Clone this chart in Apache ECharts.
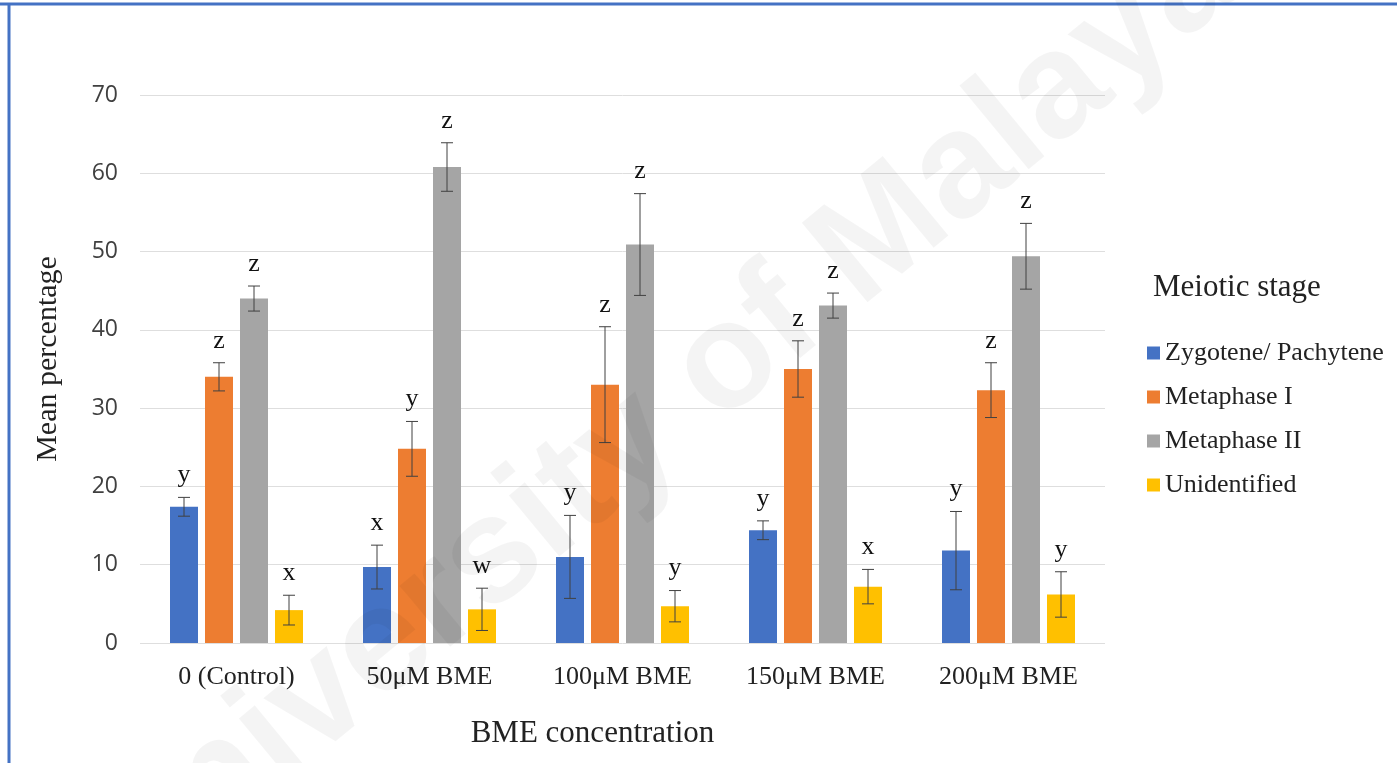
<!DOCTYPE html>
<html>
<head>
<meta charset="utf-8">
<script src="https://cdn.jsdelivr.net/npm/echarts@6/dist/echarts.min.js"></script>
<style>
html,body{margin:0;padding:0;background:#fff;}
#chart{width:1397px;height:763px;}
</style>
</head>
<body>
<div id="chart"></div>
<script>
const categories = ['0 (Control)', '50\u03bcM BME', '100\u03bcM BME', '150\u03bcM BME', '200\u03bcM BME'];
const seriesNames = ['Zygotene/ Pachytene', 'Metaphase I', 'Metaphase II', 'Unidentified'];
const zygotene = [17.4, 9.7, 11.0, 14.4, 11.8];
const metaphase1 = [34.0, 24.8, 33.0, 35.0, 32.3];
const metaphase2 = [44.0, 60.8, 50.9, 43.1, 49.4];
const unidentified = [4.2, 4.3, 4.7, 7.2, 6.2];
const zygoteneErr = [1.2, 2.8, 5.3, 1.2, 5.0];
const metaphase1Err = [1.8, 3.5, 7.4, 3.6, 3.5];
const metaphase2Err = [1.6, 3.1, 6.5, 1.6, 4.2];
const unidentifiedErr = [1.9, 2.7, 2.0, 2.2, 2.9];
const zygoteneLetters = ['y', 'x', 'y', 'y', 'y'];
const metaphase1Letters = ['z', 'y', 'z', 'z', 'z'];
const metaphase2Letters = ['z', 'z', 'z', 'z', 'z'];
const unidentifiedLetters = ['x', 'w', 'y', 'x', 'y'];
const yTicks = { min: 0, max: 70, interval: 10 };

const colors = ['#4472C4', '#ED7D31', '#A5A5A5', '#FFC000'];
const means = [zygotene, metaphase1, metaphase2, unidentified];
const errs = [zygoteneErr, metaphase1Err, metaphase2Err, unidentifiedErr];
const letters = [zygoteneLetters, metaphase1Letters, metaphase2Letters, unidentifiedLetters];

const BAR_W = 28;
const BAR_GAP = 0.25;
const serif = '"Liberation Serif", "Times New Roman", serif';

const chart = echarts.init(document.getElementById('chart'), null, { renderer: 'canvas' });

const barSeries = seriesNames.map((name, k) => ({
  name: name,
  type: 'bar',
  data: means[k],
  barWidth: BAR_W,
  barGap: (BAR_GAP * 100) + '%',
  itemStyle: { color: colors[k] },
  z: 2
}));

const errSeries = seriesNames.map((name, k) => ({
  name: 'err' + k,
  type: 'custom',
  z: 4,
  silent: true,
  data: means[k].map((m, i) => [i, m, errs[k][i], letters[k][i]]),
  renderItem: function (params, api) {
    const idx = api.value(0);
    const m = api.value(1);
    const e = api.value(2);
    const letter = letters[k][idx];
    const step = BAR_W * (1 + BAR_GAP);
    const off = (k - 1.5) * step;
    const top = api.coord([idx, m + e]);
    const bot = api.coord([idx, m - e]);
    const x = top[0] + off;
    const cap = 6;
    const ls = { stroke: '#404040', lineWidth: 1 };
    return {
      type: 'group',
      children: [
        { type: 'line', shape: { x1: x, y1: top[1], x2: x, y2: bot[1] }, style: ls },
        { type: 'line', shape: { x1: x - cap, y1: top[1], x2: x + cap, y2: top[1] }, style: ls },
        { type: 'line', shape: { x1: x - cap, y1: bot[1], x2: x + cap, y2: bot[1] }, style: ls },
        { type: 'text', style: {
            text: letter, x: x, y: top[1] - 9,
            font: '26px ' + serif, fill: '#111',
            textAlign: 'center', textVerticalAlign: 'bottom',
            align: 'center', verticalAlign: 'bottom'
        } }
      ]
    };
  }
}));

const option = {
  backgroundColor: '#ffffff',
  animation: false,
  color: colors,
  title: {
    text: 'Meiotic stage',
    left: 1148,
    top: 267,
    textStyle: { fontFamily: serif, fontSize: 31, fontWeight: 'normal', color: '#222' }
  },
  legend: {
    data: seriesNames,
    orient: 'vertical',
    left: 1142,
    top: 335,
    icon: 'rect',
    itemWidth: 13,
    itemHeight: 13,
    itemGap: 18,
    textStyle: { fontFamily: serif, fontSize: 26, color: '#222' }
  },
  grid: { left: 140, right: 292, top: 95, bottom: 120 },
  xAxis: {
    type: 'category',
    data: categories,
    axisLine: { show: false },
    axisTick: { show: false },
    axisLabel: { fontFamily: serif, fontSize: 26, color: '#222', margin: 21 },
    name: 'BME concentration',
    nameLocation: 'middle',
    nameGap: 75,
    nameTextStyle: { fontFamily: serif, fontSize: 31, color: '#222', padding: [0, 60, 0, 0] }
  },
  yAxis: {
    type: 'value',
    min: yTicks.min,
    max: yTicks.max,
    interval: yTicks.interval,
    axisLine: { show: false },
    axisTick: { show: false },
    splitLine: { lineStyle: { color: '#dedede', width: 1 } },
    axisLabel: { fontFamily: '"Open Sans", sans-serif', fontSize: 23, color: '#404040', margin: 22 },
    name: 'Mean percentage',
    nameLocation: 'middle',
    nameGap: 77,
    nameTextStyle: { fontFamily: serif, fontSize: 30, color: '#222', padding: [0, 0, 0, 20] }
  },
  graphic: [
    { type: 'line', shape: { x1: 0, y1: 4, x2: 1397, y2: 4 }, style: { stroke: '#4472C4', lineWidth: 3 }, z: 10 },
    { type: 'line', shape: { x1: 9, y1: 3, x2: 9, y2: 763 }, style: { stroke: '#4472C4', lineWidth: 3 }, z: 10 },
    { type: 'text', x: 660, y: 420, rotation: 0.69, silent: true, z: 100,
      style: { text: 'University of Malaya', font: 'bold 150px "Liberation Sans", sans-serif',
        fill: 'rgba(0,0,0,0.045)', textAlign: 'center', textVerticalAlign: 'middle',
        align: 'center', verticalAlign: 'middle' } }
  ],
  series: barSeries.concat(errSeries)
};

chart.setOption(option);
</script>
</body>
</html>
